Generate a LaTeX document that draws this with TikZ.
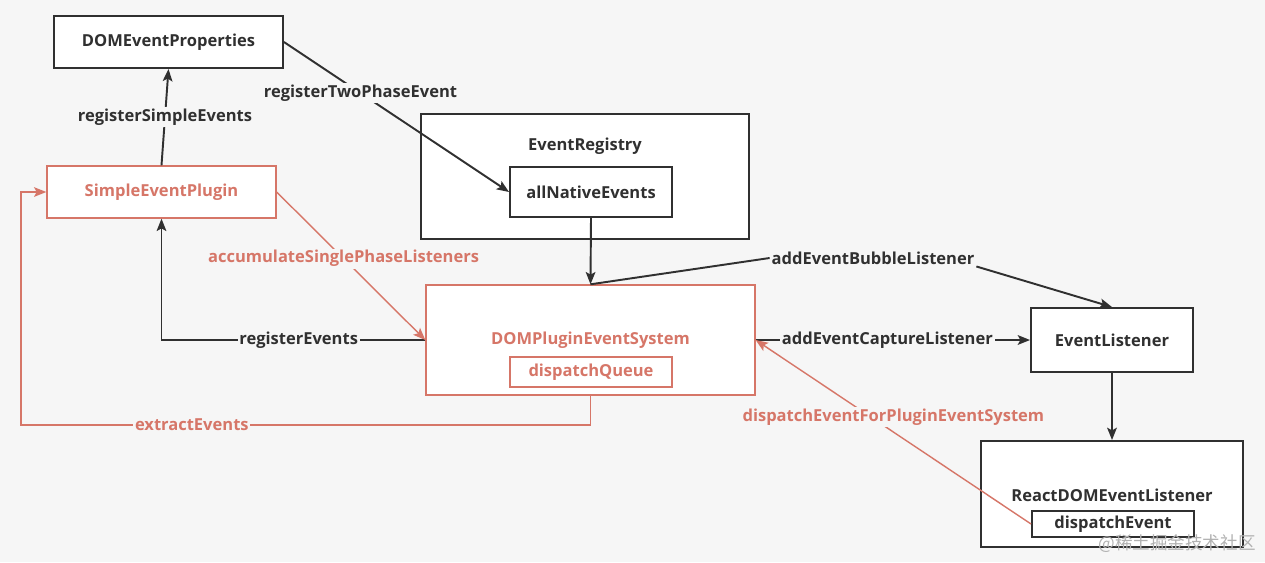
\documentclass[tikz,border=0pt]{standalone}
\usepackage{fontspec}
\setmainfont{Open Sans}
\newfontfamily\cjkfont{Noto Sans CJK SC}
\usepackage{tikz}
\usetikzlibrary{
  arrows.meta,
  positioning,
  calc
}
\definecolor{InkGray}{RGB}{48,48,48}
\definecolor{PluginRed}{RGB}{214,118,104}
\definecolor{PageGray}{RGB}{246,246,246}
\tikzset{
  sbox/.style={
    draw=InkGray,
    line width=1.1pt,
    fill=white,
    text=InkGray,
    align=center,
    font=\bfseries\fontsize{9.4}{11}\selectfont,
    inner sep=0pt
  },
  redbox/.style={sbox,draw=PluginRed,line width=0.8pt,text=PluginRed},
  boxtitle/.style={font=\bfseries\fontsize{9.4}{11}\selectfont,text=InkGray,inner sep=1pt},
  redtitle/.style={boxtitle,text=PluginRed},
  tag/.style={font=\bfseries\fontsize{9.4}{11}\selectfont,text=InkGray,fill=PageGray,inner sep=1pt},
  redtag/.style={tag,text=PluginRed},
  marktext/.style={font=\cjkfont\fontsize{10}{12}\selectfont,text=black!30,inner sep=0pt},
  arrow/.style={-{Stealth[length=7pt,width=5.5pt,inset=1.5pt]},line width=1.1pt,draw=InkGray},
  redarrow/.style={-{Stealth[length=7pt,width=5.5pt,inset=1.5pt]},line width=0.8pt,draw=PluginRed}
}

\begin{document}
\begin{tikzpicture}[x=0.02cm,y=-0.02cm]
  \fill[PageGray] (0,0) rectangle (1265,562);

  \node[sbox, minimum width=4.58cm, minimum height=1.04cm] (props) at (168.5,42) {DOMEventProperties};
  \node[redbox, minimum width=4.58cm, minimum height=1.04cm] (simple) at (161.5,192) {SimpleEventPlugin};
  \node[sbox, minimum width=6.56cm, minimum height=2.5cm] (registry) at (585,176.5) {};
  \node[boxtitle] (registrytitle) at (585,146) {EventRegistry};
  \node[sbox, minimum width=3.24cm, minimum height=1cm] (natives) at (591,192) {allNativeEvents};
  \node[redbox, minimum width=6.58cm, minimum height=2.2cm] (dps) at (590.5,340) {};
  \node[redtitle] (dpstitle) at (590.5,340) {DOMPluginEventSystem};
  \node[redbox, minimum width=3.24cm, minimum height=0.6cm] (queue) at (591,372) {dispatchQueue};
  \node[sbox, minimum width=3.24cm, minimum height=1.28cm] (listener) at (1112,340) {EventListener};
  \node[sbox, minimum width=5.24cm, minimum height=2.12cm] (reactdom) at (1112,494) {};
  \node[boxtitle] (reactdomtitle) at (1112,495) {ReactDOMEventListener};
  \node[sbox, minimum width=3.24cm, minimum height=0.52cm] (dispatch) at (1113,524) {dispatchEvent};
  \node[tag] (bubble) at (873,258) {addEventBubbleListener};
  \coordinate (loop) at (21,425);

  \draw[arrow] (simple.north) -- node[tag]{registerSimpleEvents} (props.south);
  \draw[arrow] (props.east) -- node[tag,pos=0.34]{registerTwoPhaseEvent} (natives.west);
  \draw[arrow] (natives.south) -- (dps.north);
  \draw[arrow] (dps.north) -- (bubble.west) (bubble.south east) -- (listener.north);
  \draw[arrow] (dps.east) -- node[tag,pos=0.48]{addEventCaptureListener} (listener.west);
  \draw[arrow] (listener.south) -- (reactdom.north);
  \draw[arrow] (dps.west) -| node[tag,pos=0.24]{registerEvents} (simple.south);
  \draw[redarrow] (simple.east) -- node[redtag,pos=0.45]{accumulateSinglePhaseListeners} (dps.west);
  \draw[redarrow] (dps.south) |- node[redtag,pos=0.85]{extractEvents} (loop) |- (simple.west);
  \draw[redarrow] (dispatch.west) -- node[redtag,yshift=8.5pt]{dispatchEventForPluginEventSystem} (dps.east);

  \node[marktext] (mark) at (1177,544) {@稀土掘金技术社区};
\end{tikzpicture}
\end{document}
